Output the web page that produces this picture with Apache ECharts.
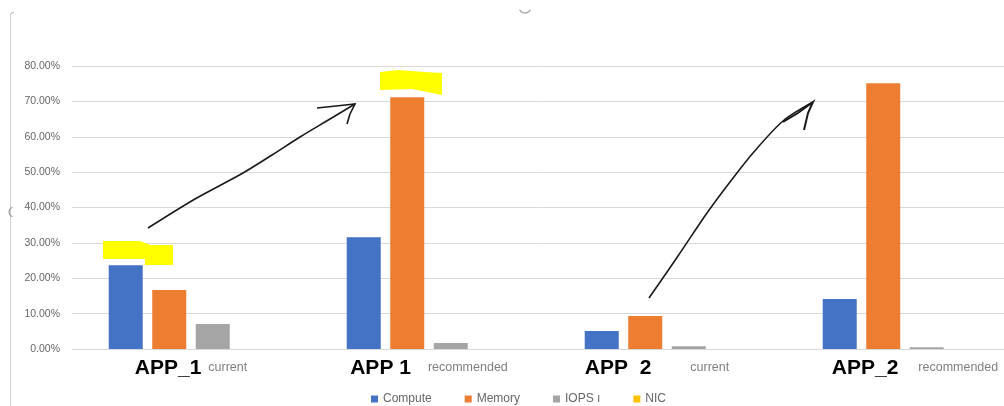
<!DOCTYPE html>
<html>
<head>
<meta charset="utf-8">
<title>APP utilisation: current vs recommended</title>
<script src="https://cdn.jsdelivr.net/npm/echarts@6/dist/echarts.min.js"></script>
<style>
  html, body { margin: 0; padding: 0; background: #fff; }
  #chart { width: 1004px; height: 406px; }
</style>
</head>
<body>
<div id="chart"></div>
<script>
// Category labels: application name + sizing stage
const appNames = ['APP_1', 'APP 1', 'APP  2', 'APP_2'];
const stages = ['current', 'recommended', 'current', 'recommended'];

// Utilisation per resource, in percent
const compute = [23.7, 31.6, 5.1, 14.1];
const memory = [16.7, 71.2, 9.3, 75.1];
const iops = [7.1, 1.7, 0.8, 0.5];
const nic = [0, 0, 0, 0];

const seriesNames = ['Compute', 'Memory', 'IOPS ı', 'NIC'];
const seriesColors = ['#4472C4', '#ED7D31', '#A5A5A5', '#FFC000'];
const seriesData = [compute, memory, iops, nic];

// Y axis ticks (percent)
const yMin = 0, yMax = 80, yStep = 10;

const chart = echarts.init(document.getElementById('chart'));

// Hand-drawn notes over the plot: highlighter marks and arrows
const highlighter = '#FFFF00';
const pen = '#1a1a1a';
const notes = [
  { type: 'polygon', z: 10, shape: { points: [[103,241],[140,241],[150,245],[173,245],[173,265],[145,265],[145,259],[103,259]] }, style: { fill: highlighter } },
  { type: 'polygon', z: 10, shape: { points: [[380,72],[398,70],[424,72],[442,73],[442,95],[432,93],[412,89],[380,90]] }, style: { fill: highlighter } },
  { type: 'polyline', z: 10, shape: { points: [[148,228],[195,199],[243,173],[272,155],[300,137],[330,119],[355,104]], smooth: 0.3 }, style: { stroke: pen, lineWidth: 1.6, fill: null } },
  { type: 'polyline', z: 10, shape: { points: [[317,108],[336,106],[355,104],[350,114],[347,124]] }, style: { stroke: pen, lineWidth: 1.6, fill: null } },
  { type: 'polyline', z: 10, shape: { points: [[649,298],[678,256],[707,213],[730,182],[753,153],[783,121],[813,102]], smooth: 0.3 }, style: { stroke: pen, lineWidth: 1.6, fill: null } },
  { type: 'polyline', z: 10, shape: { points: [[783,122],[798,113],[813,102],[808,113],[804,130]] }, style: { stroke: pen, lineWidth: 2, fill: null } },
  // page edge and small marks around the figure
  { type: 'line', z: 5, shape: { x1: 10.5, y1: 14, x2: 10.5, y2: 406 }, style: { stroke: '#d0d0d0', lineWidth: 1 } },
  { type: 'line', z: 5, shape: { x1: 10.5, y1: 14, x2: 14, y2: 12 }, style: { stroke: '#b0b0b0', lineWidth: 1 } },
  { type: 'arc', z: 5, shape: { cx: 14, cy: 212, r: 5, startAngle: Math.PI * 0.6, endAngle: Math.PI * 1.4 }, style: { stroke: '#999', lineWidth: 1.2, fill: null } },
  { type: 'arc', z: 5, shape: { cx: 525, cy: 7, r: 6, startAngle: Math.PI * 0.15, endAngle: Math.PI * 0.85 }, style: { stroke: '#aaa', lineWidth: 1.5, fill: null } }
];

// Label text styles: bold app name, small grey stage word with its own spacing
const nameStyle = { fontSize: 21, fontWeight: 'bold', color: '#000', fontFamily: 'Liberation Sans' };
const stageStyle = { fontSize: 12.5, color: '#7f7f7f', fontFamily: 'Liberation Sans' };
const labelRich = {
  a0: nameStyle, a1: nameStyle, a2: nameStyle,
  a3: Object.assign({}, nameStyle, { padding: [0, 0, 0, 20] }),
  b0: Object.assign({}, stageStyle, { padding: [0, 0, 2, 7] }),
  b1: Object.assign({}, stageStyle, { padding: [0, 0, 2, 17] }),
  b2: Object.assign({}, stageStyle, { padding: [0, 20, 2, 39] }),
  b3: Object.assign({}, stageStyle, { padding: [0, 0, 2, 20] })
};

chart.setOption({
  animation: false,
  textStyle: { fontFamily: 'Liberation Sans, Arial, sans-serif' },
  // plot area runs past the right edge of the page
  grid: { left: 72, width: 952, top: 66, bottom: 57, outerBoundsMode: 'none', containLabel: false },
  legend: {
    left: 366,
    top: 388,
    itemWidth: 7,
    itemHeight: 7,
    itemGap: 33,
    icon: 'rect',
    textStyle: { color: '#666', fontSize: 12 },
    data: seriesNames
  },
  xAxis: {
    type: 'category',
    data: appNames.map((n, i) => n + '|' + stages[i]),
    axisLine: { lineStyle: { color: '#d9d9d9', width: 1 } },
    axisTick: { show: false },
    axisLabel: {
      margin: 9,
      interval: 0,
      hideOverlap: false,
      formatter: (v, i) => {
        const [name, stage] = v.split('|');
        return '{a' + i + '|' + name + '}{b' + i + '|' + stage + '}';
      },
      rich: labelRich
    }
  },
  yAxis: {
    type: 'value',
    min: yMin,
    max: yMax,
    interval: yStep,
    axisLine: { show: false },
    axisTick: { show: false },
    splitLine: { lineStyle: { color: '#d9d9d9', width: 1 } },
    axisLabel: {
      margin: 12,
      color: '#666',
      fontSize: 10.5,
      formatter: v => v.toFixed(2) + '%'
    }
  },
  series: seriesNames.map((name, i) => ({
    name,
    type: 'bar',
    data: seriesData[i],
    barWidth: 34,
    barGap: '28%',
    itemStyle: { color: seriesColors[i] }
  })),
  graphic: notes
});
</script>
</body>
</html>
